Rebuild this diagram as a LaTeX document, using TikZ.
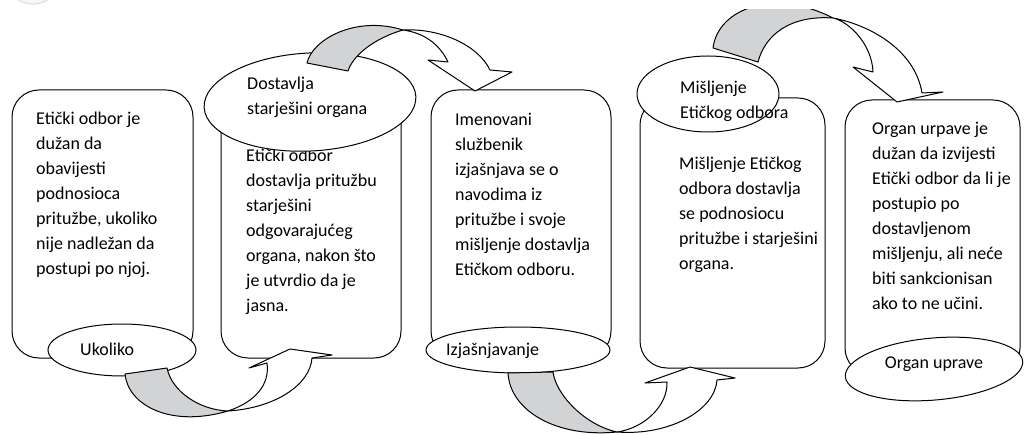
\documentclass[tikz,border=0pt]{standalone}
\usepackage{fontspec}
\setmainfont{Carlito}
\usetikzlibrary{shapes.geometric}
\definecolor{ribbon}{RGB}{210,211,213}
\begin{document}
\begin{tikzpicture}[x=1pt,y=-1pt,
  box/.style={draw, line width=1pt, rounded corners=27pt, fill=white, inner sep=0pt},
  bub/.style={draw, line width=1pt, ellipse, fill=white, inner sep=0pt},
  txt/.style={font=\fontsize{18}{25}\selectfont, align=left, inner sep=0pt, anchor=north west},
  ltxt/.style={font=\fontsize{18}{25}\selectfont, inner sep=0pt},
  ribb/.style={draw, line width=1pt, line join=round}]
\useasboundingbox (0,0) rectangle (1027,435);
% faint decoration top-left
\begin{scope}
\clip (0,0) rectangle (1027,435);
\draw[gray!25, fill=gray!6, line width=1.2pt] (33,-25) circle (29);
\end{scope}
% boxes
\node[box, minimum width=181pt, minimum height=268pt] (b1) at (102.5,224) {};
\node[box, minimum width=180pt, minimum height=263pt] (b2) at (311,226.5) {};
\node[box, minimum width=180pt, minimum height=268pt] (b3) at (521,224) {};
\node[box, minimum width=185pt, minimum height=270pt] (b4) at (732.5,233) {};
\node[box, minimum width=175pt, minimum height=275pt] (b5) at (932.5,237.5) {};
% box texts
\node[txt] (t1) at (36,111.7) {Etički odbor je\\dužan da\\obavijesti\\podnosioca\\pritužbe, ukoliko\\nije nadležan da\\postupi po njoj.};
\node[txt] (t2) at (246,149.2) {Etički odbor\\dostavlja pritužbu\\starješini\\odgovarajućeg\\organa, nakon što\\je utvrdio da je\\jasna.};
\node[txt] (t3) at (455,113) {Imenovani\\službenik\\izjašnjava se o\\navodima iz\\pritužbe i svoje\\mišljenje dostavlja\\Etičkom odboru.};
\node[txt] (t4) at (679,156.7) {Mišljenje Etičkog\\odbora dostavlja\\se podnosiocu\\pritužbe i starješini\\organa.};
\node[txt] (t5) at (872,121.7) {Organ urpave je\\dužan da izvijesti\\Etički odbor da li je\\postupio po\\dostavljenom\\mišljenju, ali neće\\biti sankcionisan\\ako to ne učini.};
% ellipses
\node[bub, minimum width=148pt, minimum height=52pt] (e1) at (122,350) {};
\node[bub, minimum width=212pt, minimum height=98pt, rotate=3] (e2) at (310,102) {};
\node[bub, minimum width=184pt, minimum height=46pt] (e3) at (518,350) {};
\node[bub, minimum width=142pt, minimum height=76pt] (e4) at (708,94) {};
\node[bub, minimum width=178pt, minimum height=62pt, rotate=5] (e5) at (934,369) {};
% ellipse texts
\node[ltxt, anchor=base west] (l1) at (80,355) {Ukoliko};
\node[txt] (l2) at (247,76.7) {Dostavlja\\starješini organa};
\node[ltxt, anchor=base west] (l3) at (446,355) {Izjašnjavanje};
\node[txt] (l4) at (680,80.7) {Mišljenje\\Etičkog odbora};
\node[ltxt, anchor=base] (l5) at (934,368) {Organ uprave};
% arrow 1 (bottom left)
\path[ribb, fill=ribbon] (125,374) -- (167,368) .. controls (172,392) and (200,410) .. (228,411) .. controls (170,428) and (128,405) .. cycle;
\path[ribb, fill=white] (228,411) .. controls (275,408) and (310,385) .. (312,358) -- (332,355) -- (290,349) -- (249,368) -- (267,363) .. controls (270,385) and (255,402) .. cycle;
% arrow 2 (top)
\path[ribb, fill=ribbon] (307,63) -- (348,71) .. controls (353,55) and (375,38) .. (403,30) .. controls (355,15) and (312,40) .. cycle;
\path[ribb, fill=white] (403,30) .. controls (440,28) and (478,45) .. (490,70) -- (512,72) -- (475,91) -- (428,60) -- (448,62) .. controls (440,45) and (425,33) .. cycle;
% arrow 3 (bottom middle)
\path[ribb, fill=ribbon] (508,373) -- (553,372) .. controls (556,395) and (585,425) .. (617,432) .. controls (555,438) and (510,410) .. cycle;
\path[ribb, fill=white] (617,432) .. controls (670,436) and (715,410) .. (717,380) -- (735,378) -- (690,367) -- (645,383) -- (667,382) .. controls (668,405) and (645,428) .. cycle;
% arrow 4 (top right, clipped)
\begin{scope}
\clip (0,10) rectangle (1027,435);
\path[ribb, fill=ribbon] (713,48) -- (758,62) .. controls (765,35) and (790,15) .. (833,18) .. controls (775,-12) and (718,8) .. cycle;
\path[ribb, fill=white] (833,18) .. controls (870,25) and (915,50) .. (922,93) -- (943,92) -- (897,102) -- (853,67) -- (873,72) .. controls (872,45) and (850,22) .. cycle;
\end{scope}
\end{tikzpicture}
\end{document}
